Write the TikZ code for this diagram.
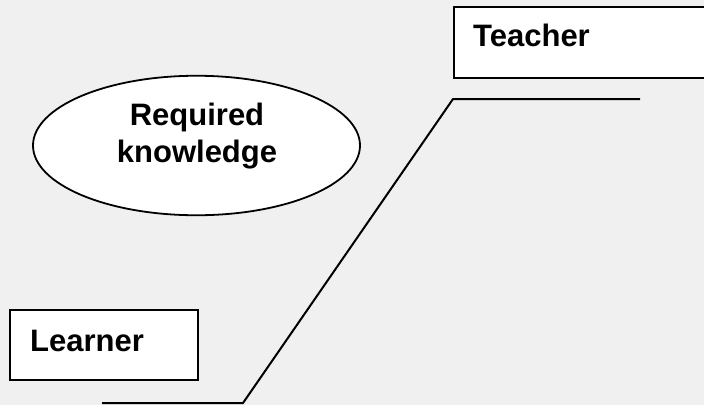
\documentclass[tikz,border=0pt]{standalone}
\usepackage{fontspec}
\setmainfont{Liberation Sans}
\usetikzlibrary{shapes.geometric}
\definecolor{pagebg}{HTML}{F0F0F0}
\begin{document}
\begin{tikzpicture}[x=1pt,y=-1pt,
  frame/.style={draw=black,line width=2pt,fill=white,rectangle,inner sep=0pt},
  oval/.style={draw=black,line width=1.8pt,fill=white,ellipse,inner sep=0pt},
  lbl/.style={font=\fontsize{31}{37}\selectfont\bfseries,inner sep=0pt},
  link/.style={draw=black,line width=2pt}]
  % page
  \fill[pagebg] (0,0) rectangle (704,405);
  \useasboundingbox (0,0) rectangle (704,405);
  \clip (0,0) rectangle (704,405);

  % boxes
  \node[frame,anchor=north west,minimum width=262pt,minimum height=71pt] (teacher) at (453,5.5) {};
  \node[lbl,anchor=base west] (teachertxt) at (473,46) {Teacher};

  \node[frame,anchor=north west,minimum width=188pt,minimum height=70pt] (learner) at (9,309) {};
  \node[lbl,anchor=base west] (learnertxt) at (30,351) {Learner};

  % ellipse
  \node[oval,minimum width=327pt,minimum height=139.5pt] (knowledge) at (196.5,145.5) {};
  \node[lbl,align=center,anchor=base] (knowtxt) at (197,162) {Required\\knowledge};

  % connecting staircase line
  \coordinate (lowstart) at (102,403);
  \coordinate (lowcorner) at (243,403);
  \coordinate (highcorner) at (453,99);
  \coordinate (highend) at (640,99);
  \draw[link] (lowstart) -- (lowcorner) -- (highcorner) -- (highend);
\end{tikzpicture}
\end{document}
